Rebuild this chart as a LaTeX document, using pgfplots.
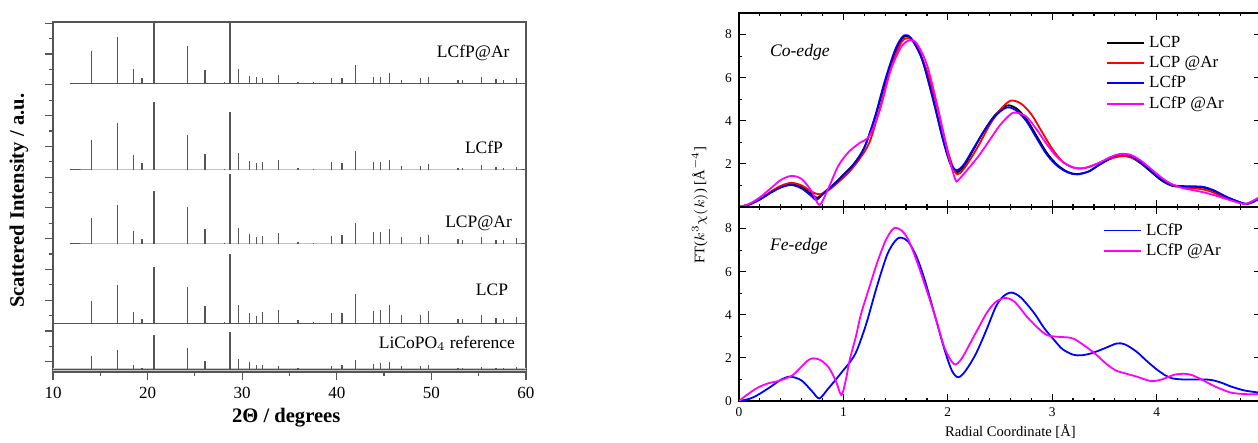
\documentclass[border=0pt]{standalone}
\usepackage{pgfplots}
\usepackage{pgfplotstable}
\pgfplotsset{compat=1.18}
\usepackage{fontspec}
\setmainfont{Liberation Serif}

\definecolor{stick}{RGB}{85,85,85}
\definecolor{pmag}{RGB}{255,0,255}
\definecolor{pred}{RGB}{255,0,0}
\definecolor{pblue}{RGB}{0,0,255}

% XRD stick patterns: peak position and height (in px units) for each sample
\pgfplotstableread{
x      fpar fp   par  p    ref
10.00  0    0    0    0    0
11.75  0    0    0    0    0
14.05  32   30   26   22   13
16.78  46   47   39   38   19
18.49  14   15   13   11   4
19.40  5    7    5    4    1.5
20.67  75   68   53   56   34
24.24  37   35   37   36   21
26.06  13   16   15   17   8
28.10  1    1    1    1    0.5
28.71  75   58   70   69   37
29.59  14   17   16   18   10
30.75  7    9    10   10   7
31.51  6    7    7    7    4
32.14  5    8    8    11   4
33.81  8    10   11   13   3
35.89  1.5  2    2    3    1
37.52  1    1    1    1    0.5
39.42  5    8    8    10   3
40.54  5    7    9    10   4
41.96  18   19   21   29   9
43.89  6    8    12   12   5
44.62  6    8    12   13   6
45.53  10   10   15   18   7
46.81  3    4    7    8    3
48.88  5    4    7    8    3
49.72  6    6    9    12   4
52.81  3    2    5    4    1
53.25  3    2    4    4    1
55.29  6    5    7    8    2
56.82  4    3    4    5    1
57.61  3    2    4    4    1
58.99  5    3    6    6    2
60.00  0    0    0    0    0
}\xrd

\pgfplotsset{
  xrdplot/.style={stick, line width=0.5pt, mark=none,
    error bars/y dir=plus, error bars/y explicit, error bars/error mark=none,
    error bars/error bar style={stick, line width=0.6pt}},
  exafs/.style={
    scale only axis, width=261pt, height=97pt,
    xmin=0, xmax=5, ymin=0, ymax=9,
    xtick={0,1,2,3,4,5}, minor x tick num=4,
    ytick={0,2,4,6,8}, minor y tick num=1,
    tick align=inside, major tick length=3.3pt, minor tick length=1.7pt,
    axis line style={line width=0.75pt}, every tick/.style={line width=0.6pt},
    tick label style={font=\fontsize{6.7}{8}\selectfont},
    /pgf/number format/assume math mode=true,
    legend cell align=left,
    legend style={draw=none, fill=none, font=\fontsize{8.5}{10}\selectfont,
      inner sep=0pt, row sep=-1.2pt},
    legend image code/.code={\draw[#1, line width=0.9pt] (0pt,0pt) -- (18.5pt,0pt);},
    every axis plot/.append style={line width=0.9pt, smooth, mark=none},
  },
}

\begin{document}
\begin{tikzpicture}
\useasboundingbox (0,0) rectangle (629pt,221.5pt);

% ---------- left: XRD ----------
\begin{axis}[
  at={(26.5pt,35.5pt)}, anchor=south west,
  scale only axis, width=236.5pt, height=175pt,
  xmin=10, xmax=60, ymin=0, ymax=350,
  xtick={10,20,30,40,50,60}, minor x tick num=1,
  ytick={10.3,41.06,71.82,102.58,133.34,164.1,194.86,225.62,256.38,287.14,317.9,348.66},
  minor y tick num=1, yticklabels={},
  tick align=outside, xtick pos=bottom, ytick pos=left,
  major tick length=4pt, minor tick length=2.2pt,
  axis line style={stick, line width=0.6pt}, every tick/.style={stick, line width=0.6pt},
  tick label style={font=\fontsize{8.5}{10}\selectfont},
  /pgf/number format/assume math mode=true,
  xlabel={\bfseries 2Θ / degrees},
  ylabel={\bfseries Scattered Intensity / a.u.},
  xlabel style={at={(axis description cs:0.493,-0.129)}, anchor=center, font=\fontsize{10.3}{12}\selectfont},
  ylabel style={at={(axis description cs:-0.072,0.489)}, anchor=center, rotate=0, font=\fontsize{10.3}{12}\selectfont},
]
\addplot[gray!45, line width=1.6pt, mark=none] table[x=x, y expr=2.7] {\xrd};
\addplot[xrdplot] table[x=x, y expr=2.7, y error=ref] {\xrd};
\addplot[xrdplot] table[x=x, y expr=48.7, y error=p] {\xrd};
\addplot[xrdplot, restrict x to domain=11.7:60] table[x=x, y expr=128, y error=par] {\xrd};
\addplot[xrdplot, restrict x to domain=11.7:60] table[x=x, y expr=202, y error=fp] {\xrd};
\addplot[xrdplot, restrict x to domain=11.7:60] table[x=x, y expr=288.7, y error=fpar] {\xrd};
\node[anchor=east, font=\fontsize{8.75}{10}\selectfont] at (axis cs:59.0,319) {LCfP@Ar};
\node[anchor=center, font=\fontsize{8.75}{10}\selectfont] at (axis cs:55.56,225) {LCfP};
\node[anchor=east, font=\fontsize{8.75}{10}\selectfont] at (axis cs:59.26,149) {LCP@Ar};
\node[anchor=center, font=\fontsize{8.75}{10}\selectfont] at (axis cs:56.4,82) {LCP};
\node[anchor=east, font=\fontsize{8.75}{10}\selectfont] at (axis cs:59.58,29) {LiCoPO$_4$ reference};
\end{axis}

% ---------- right top: Co-edge ----------
\begin{axis}[exafs,
  at={(369.5pt,118pt)}, anchor=south west,
  xticklabels={}, yticklabels={,2,4,6,8},
  legend style={at={(axis description cs:0.703,0.905)}, anchor=north west},
]
\addplot[black] coordinates {(0,0)(0.1,0.12)(0.2,0.35)(0.3,0.66)(0.4,0.92)(0.5,1.05)(0.6,0.92)(0.7,0.58)(0.75,0.42)(0.8,0.62)(0.9,1.02)(1.0,1.5)(1.1,2.0)(1.2,2.75)(1.3,4.1)(1.4,5.8)(1.5,7.25)(1.58,7.9)(1.65,7.8)(1.75,6.9)(1.85,5.2)(1.95,3.2)(2.02,2.05)(2.08,1.62)(2.15,1.85)(2.25,2.7)(2.35,3.55)(2.45,4.25)(2.56,4.7)(2.65,4.6)(2.75,4.1)(2.85,3.3)(2.95,2.5)(3.05,1.95)(3.15,1.62)(3.24,1.53)(3.35,1.65)(3.45,1.95)(3.55,2.22)(3.65,2.38)(3.75,2.32)(3.85,2.02)(3.95,1.62)(4.05,1.22)(4.15,0.98)(4.25,0.94)(4.35,0.93)(4.45,0.9)(4.55,0.74)(4.65,0.5)(4.75,0.3)(4.86,0.14)(4.95,0.3)(5.0,0.45)};
\addlegendentry{LCP}
\addplot[pred] coordinates {(0,0)(0.1,0.12)(0.2,0.35)(0.3,0.7)(0.4,0.98)(0.5,1.12)(0.6,1.0)(0.7,0.7)(0.77,0.59)(0.85,0.75)(0.95,1.15)(1.05,1.6)(1.15,2.2)(1.25,3.0)(1.35,4.6)(1.45,6.4)(1.55,7.6)(1.62,7.84)(1.7,7.5)(1.8,6.3)(1.9,4.6)(2.0,2.6)(2.07,1.62)(2.12,1.58)(2.2,2.1)(2.3,2.9)(2.4,3.8)(2.5,4.5)(2.6,4.93)(2.7,4.8)(2.8,4.3)(2.9,3.5)(3.0,2.7)(3.1,2.1)(3.2,1.83)(3.3,1.8)(3.4,1.95)(3.5,2.15)(3.6,2.3)(3.7,2.36)(3.8,2.2)(3.9,1.9)(4.0,1.5)(4.1,1.15)(4.2,0.95)(4.3,0.88)(4.4,0.85)(4.5,0.75)(4.6,0.55)(4.7,0.35)(4.8,0.2)(4.86,0.15)(4.95,0.35)(5.0,0.5)};
\addlegendentry{LCP @Ar}
\addplot[pblue] coordinates {(0,0)(0.1,0.12)(0.2,0.35)(0.3,0.65)(0.4,0.9)(0.5,1.02)(0.6,0.86)(0.7,0.48)(0.74,0.32)(0.8,0.58)(0.9,1.0)(1.0,1.48)(1.1,1.98)(1.2,2.75)(1.3,4.15)(1.4,5.9)(1.5,7.35)(1.58,7.96)(1.65,7.82)(1.75,6.9)(1.85,5.15)(1.95,3.2)(2.02,2.1)(2.08,1.71)(2.15,1.95)(2.25,2.75)(2.35,3.55)(2.45,4.2)(2.56,4.61)(2.65,4.5)(2.75,4.0)(2.85,3.2)(2.95,2.42)(3.05,1.9)(3.15,1.6)(3.24,1.51)(3.35,1.65)(3.45,1.97)(3.55,2.27)(3.65,2.44)(3.75,2.37)(3.85,2.07)(3.95,1.67)(4.05,1.27)(4.15,1.02)(4.25,0.97)(4.35,0.96)(4.45,0.93)(4.55,0.77)(4.65,0.52)(4.75,0.31)(4.86,0.14)(4.95,0.3)(5.0,0.45)};
\addlegendentry{LCfP}
\addplot[pmag] coordinates {(0,0)(0.1,0.15)(0.2,0.45)(0.3,0.85)(0.4,1.25)(0.5,1.44)(0.6,1.3)(0.7,0.7)(0.77,0.1)(0.85,0.8)(0.95,1.9)(1.05,2.55)(1.15,2.95)(1.25,3.3)(1.35,4.5)(1.45,6.3)(1.55,7.4)(1.63,7.73)(1.7,7.6)(1.8,6.6)(1.9,4.7)(2.0,2.5)(2.07,1.3)(2.1,1.25)(2.2,1.8)(2.3,2.4)(2.4,3.1)(2.5,3.8)(2.6,4.3)(2.65,4.38)(2.75,4.2)(2.85,3.6)(2.95,2.9)(3.05,2.3)(3.15,1.95)(3.25,1.78)(3.35,1.85)(3.45,2.05)(3.55,2.3)(3.65,2.46)(3.75,2.42)(3.85,2.15)(3.95,1.75)(4.05,1.35)(4.15,1.05)(4.25,0.88)(4.35,0.78)(4.45,0.68)(4.55,0.55)(4.65,0.4)(4.75,0.25)(4.85,0.14)(4.95,0.35)(5.0,0.5)};
\addlegendentry{LCfP @Ar}
\node[anchor=west, font=\fontsize{8.8}{10}\itshape] at (axis description cs:0.046,0.80) {Co-edge};
\end{axis}

% ---------- right bottom: Fe-edge ----------
\begin{axis}[exafs,
  at={(369.5pt,21pt)}, anchor=south west,
  xlabel={Radial Coordinate [Å]},
  ylabel={FT($k^3\chi(k)$) [Å$^{-4}$]},
  xlabel style={at={(axis description cs:0.52,-0.155)}, anchor=center, font=\fontsize{7.3}{9}\selectfont},
  ylabel style={at={(axis description cs:-0.075,1.01)}, anchor=center, rotate=0, font=\fontsize{7.3}{9}\selectfont},
  legend style={at={(axis description cs:0.697,0.94)}, anchor=north west},
]
\addplot[pblue] coordinates {(0,0)(0.1,0.1)(0.18,0.28)(0.3,0.65)(0.4,0.98)(0.49,1.13)(0.6,0.95)(0.7,0.45)(0.77,0.12)(0.85,0.55)(0.92,0.95)(1.0,1.43)(1.07,1.85)(1.13,2.36)(1.22,3.6)(1.32,5.3)(1.42,6.8)(1.5,7.45)(1.55,7.58)(1.62,7.4)(1.7,6.7)(1.78,5.6)(1.88,3.9)(1.97,2.36)(2.04,1.4)(2.1,1.1)(2.17,1.4)(2.27,2.2)(2.37,3.3)(2.46,4.37)(2.53,4.85)(2.61,5.03)(2.7,4.8)(2.83,4.06)(2.92,3.4)(3.02,2.82)(3.1,2.4)(3.2,2.15)(3.28,2.12)(3.38,2.22)(3.5,2.44)(3.62,2.67)(3.7,2.62)(3.81,2.28)(3.9,1.88)(4.0,1.47)(4.08,1.2)(4.15,1.05)(4.25,1.0)(4.34,1.0)(4.45,1.0)(4.53,0.97)(4.62,0.85)(4.72,0.66)(4.85,0.48)(5.0,0.38)};
\addlegendentry{LCfP}
\addplot[pmag] coordinates {(0,0)(0.08,0.3)(0.18,0.62)(0.28,0.82)(0.37,0.92)(0.45,1.05)(0.52,1.22)(0.6,1.6)(0.66,1.88)(0.71,1.98)(0.78,1.9)(0.86,1.55)(0.93,0.9)(0.98,0.28)(1.02,0.9)(1.06,1.9)(1.12,3.0)(1.17,4.06)(1.25,5.3)(1.32,6.37)(1.4,7.4)(1.46,7.9)(1.5,8.04)(1.56,7.9)(1.62,7.5)(1.7,6.53)(1.8,5.1)(1.89,3.75)(1.97,2.45)(2.06,1.71)(2.13,1.95)(2.23,2.82)(2.3,3.45)(2.38,4.14)(2.46,4.6)(2.55,4.78)(2.64,4.6)(2.76,3.9)(2.86,3.4)(2.95,3.06)(3.05,2.98)(3.15,2.95)(3.21,2.88)(3.3,2.6)(3.41,2.2)(3.5,1.8)(3.6,1.44)(3.7,1.28)(3.81,1.13)(3.9,0.98)(3.96,0.92)(4.05,1.0)(4.17,1.22)(4.27,1.26)(4.34,1.2)(4.45,0.95)(4.53,0.74)(4.62,0.55)(4.72,0.38)(4.85,0.32)(5.0,0.32)};
\addlegendentry{LCfP @Ar}
\node[anchor=west, font=\fontsize{8.8}{10}\itshape] at (axis description cs:0.046,0.80) {Fe-edge};
\end{axis}
\end{tikzpicture}
\end{document}
